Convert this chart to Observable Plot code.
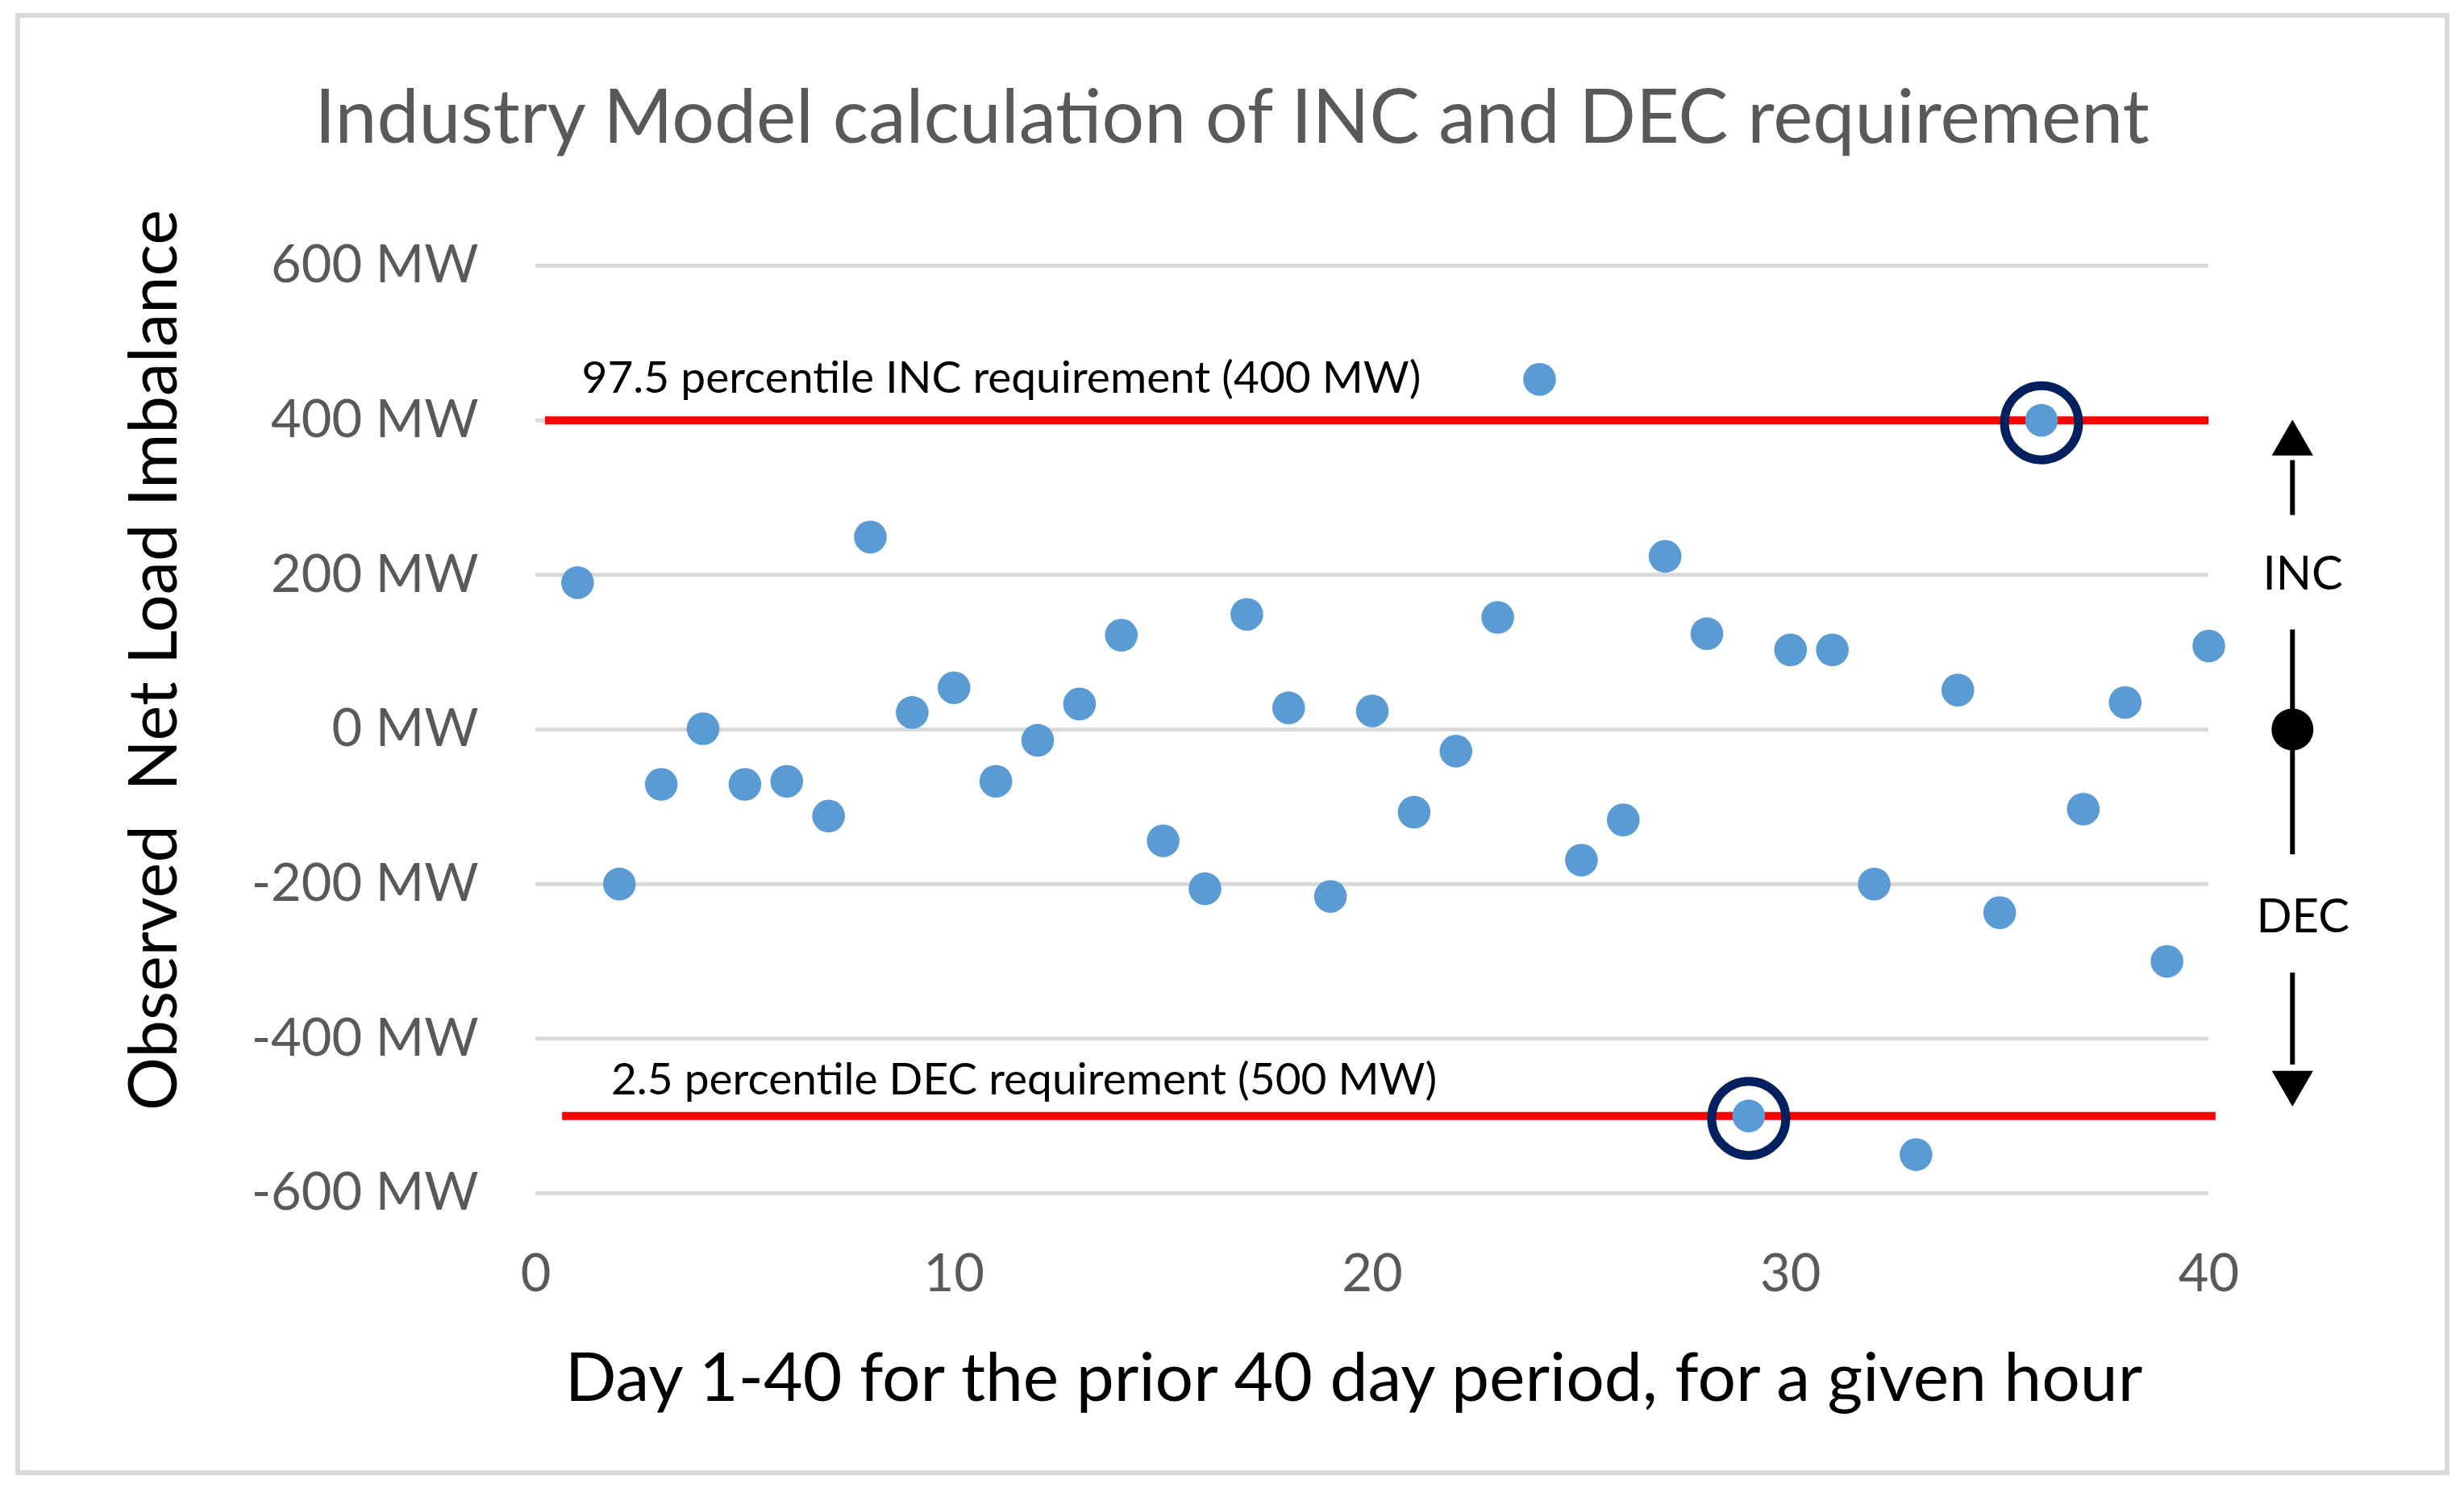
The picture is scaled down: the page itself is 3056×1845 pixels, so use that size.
<!DOCTYPE html>
<html>
<head>
<meta charset="utf-8">
<script src="https://cdn.jsdelivr.net/npm/d3@7"></script>
<script src="https://cdn.jsdelivr.net/npm/@observablehq/plot@0.6"></script>
<style>
html, body { margin: 0; padding: 0; background: #fff; }
#page { position: relative; width: 3056px; height: 1845px; overflow: hidden; font-family: Lato, sans-serif; background: #fff; }
#border { position: absolute; left: 19px; top: 16px; width: 3019px; height: 1813px; border: 6px solid #d9d9d9; box-sizing: border-box; pointer-events: none; }
#title { position: absolute; left: 0; top: 95px; width: 3056px; text-align: center; font-family: Lato, sans-serif; font-size: 93px; line-height: 1; color: #595959; white-space: nowrap; }
#chart { position: absolute; left: 0; top: 240px; }
</style>
</head>
<body>
<div id="page">
  <div id="border"></div>
  <div id="title">Industry Model calculation of INC and DEC requirement</div>
  <div id="chart"></div>
</div>
<script>
// ---- data ----
const days = [1, 2, 3, 4, 5, 6, 7, 8, 9, 10, 11, 12, 13, 14, 15, 16, 17, 18, 19, 20,
              21, 22, 23, 24, 25, 26, 27, 28, 29, 30, 31, 32, 33, 34, 35, 36, 37, 38, 39, 40];
const imbalanceMW = [190, -200, -71, 1, -71, -67, -112, 249, 22, 54,
                     -67, -14, 33, 122, -144, -206, 149, 28, -216, 24,
                     -107, -28, 145, 453, -169, -117, 224, 124, -500, 103,
                     103, -200, -550, 51, -237, 400, -103, 35, -300, 108];
const highlightDays = [36, 29];

const xTicks = [0, 10, 20, 30, 40];
const yTicks = [-600, -400, -200, 0, 200, 400, 600];

const requirementValues = [400, -500];
const requirementLabels = ["97.5 percentile INC requirement (400 MW)", "2.5 percentile DEC requirement (500 MW)"];
const requirementFromDay = [0.23, 0.64];
const requirementToDay = [40, 40.17];
const requirementLabelDay = [1.1, 1.8];

// right-hand INC / DEC direction annotation (in data units)
const directionDay = 42;
const directionLabels = ["INC", "DEC"];
const directionLabelValues = [200, -243];
const shaftFrom = [348, 129, -315];
const shaftTo = [277, -162, -434];
const arrowUpValue = [370];
const arrowDownValue = [-457];
const centerValue = [0];

const titleText = "Industry Model calculation of INC and DEC requirement";
const xTitle = "Day 1-40 for the prior 40 day period, for a given hour";
const yTitle = "Observed\u00a0 Net Load Imbalance";

// ---- tables ----
const points = days.map((d, i) => ({day: d, mw: imbalanceMW[i]}));
const highlighted = points.filter(p => highlightDays.includes(p.day));
const requirements = requirementValues.map((v, i) => ({
  value: v, label: requirementLabels[i], from: requirementFromDay[i], to: requirementToDay[i], labelDay: requirementLabelDay[i]
}));
const directions = directionLabels.map((l, i) => ({label: l, value: directionLabelValues[i]}));
const shafts = shaftFrom.map((v, i) => ({y1: v, y2: shaftTo[i]}));

const downTriangle = {
  draw(context, size) {
    const y = Math.sqrt(size / (Math.sqrt(3) * 3));
    context.moveTo(0, y * 2);
    context.lineTo(-Math.sqrt(3) * y, -y);
    context.lineTo(Math.sqrt(3) * y, -y);
    context.closePath();
  }
};

document.getElementById("title").textContent = titleText;

const chart = Plot.plot({
  width: 3056,
  height: 1605,
  marginLeft: 664,
  marginRight: 317,
  marginTop: 89,
  marginBottom: 366,
  style: {fontFamily: "Lato, sans-serif", fontSize: "65px", color: "#595959", background: "transparent", overflow: "visible"},
  x: {domain: [0, 40], ticks: xTicks, tickSize: 0, tickPadding: 75, label: null},
  y: {domain: [-600, 600], ticks: yTicks, tickSize: 0, tickPadding: 71, tickFormat: d => `${d} MW`, label: null},
  marks: [
    Plot.ruleY(yTicks, {stroke: "#d9d9d9", strokeWidth: 5}),
    Plot.ruleY(requirements, {y: "value", x1: "from", x2: "to", stroke: "#ff0000", strokeWidth: 10}),
    Plot.text(requirements.filter(r => r.value > 0), {x: "labelDay", y: "value", text: "label", textAnchor: "start", lineAnchor: "bottom", dy: -34, fontSize: 55, fill: "black"}),
    Plot.text(requirements.filter(r => r.value < 0), {x: "labelDay", y: "value", text: "label", textAnchor: "start", lineAnchor: "bottom", dy: -27, fontSize: 55, fill: "black"}),
    Plot.dot(points, {x: "day", y: "mw", r: 20.3, fill: "#5b9bd5"}),
    Plot.dot(highlighted, {x: "day", y: "mw", r: 46, stroke: "#002060", strokeWidth: 11, fill: "none", dy: 3}),
    // direction annotation
    Plot.ruleX(shafts, {x: () => directionDay, y1: "y1", y2: "y2", stroke: "black", strokeWidth: 6}),
    Plot.dot(arrowUpValue, {x: () => directionDay, y: d => d, symbol: "triangle", r: 19, fill: "black"}),
    Plot.dot(arrowDownValue, {x: () => directionDay, y: d => d, symbol: downTriangle, r: 19, fill: "black"}),
    Plot.dot(centerValue, {x: () => directionDay, y: d => d, r: 26, fill: "black"}),
    Plot.text(directions, {x: () => directionDay + 0.25, y: "value", text: "label", lineAnchor: "middle", fontSize: 58, fill: "black"}),
    // axis titles
    Plot.text([xTitle], {frameAnchor: "bottom", dx: -23, dy: 231, lineAnchor: "middle", fontSize: 84, fill: "black"}),
    Plot.text([yTitle], {frameAnchor: "left", dx: -472, dy: -86, rotate: -90, textAnchor: "middle", lineAnchor: "middle", fontSize: 83, fill: "black"})
  ]
});
document.getElementById("chart").appendChild(chart);
</script>
</body>
</html>
